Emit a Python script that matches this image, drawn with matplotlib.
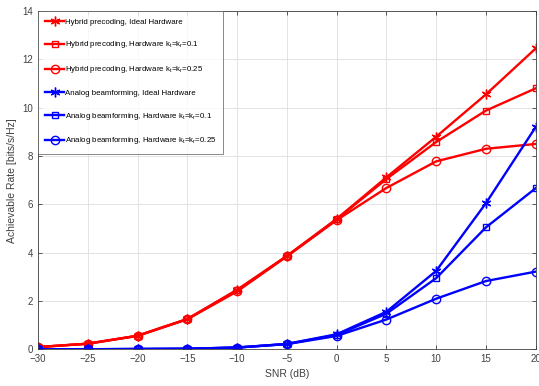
import matplotlib
matplotlib.use("Agg")
import matplotlib.pyplot as plt

snr = [-30, -25, -20, -15, -10, -5, 0, 5, 10, 15, 20]

hybrid_ideal = [0.10, 0.24, 0.57, 1.26, 2.47, 3.87, 5.40, 7.12, 8.80, 10.55, 12.45]
hybrid_k01 = [0.10, 0.24, 0.57, 1.26, 2.45, 3.86, 5.38, 7.05, 8.58, 9.88, 10.80]
hybrid_k025 = [0.10, 0.24, 0.56, 1.25, 2.40, 3.85, 5.35, 6.68, 7.78, 8.30, 8.50]

analog_ideal = [0.01, 0.01, 0.02, 0.03, 0.08, 0.23, 0.63, 1.56, 3.25, 6.05, 9.20]
analog_k01 = [0.01, 0.01, 0.02, 0.03, 0.08, 0.23, 0.60, 1.48, 2.95, 5.05, 6.67]
analog_k025 = [0.01, 0.01, 0.02, 0.03, 0.08, 0.22, 0.56, 1.24, 2.10, 2.83, 3.22]

labels = [
    "Hybrid precoding, Ideal Hardware",
    r"Hybrid precoding, Hardware k$_\mathregular{t}$=k$_\mathregular{r}$=0.1",
    r"Hybrid precoding, Hardware k$_\mathregular{t}$=k$_\mathregular{r}$=0.25",
    "Analog beamforming, Ideal Hardware",
    r"Analog beamforming, Hardware k$_\mathregular{t}$=k$_\mathregular{r}$=0.1",
    r"Analog beamforming, Hardware k$_\mathregular{t}$=k$_\mathregular{r}$=0.25",
]

plt.rcParams['font.family'] = ['Liberation Sans', 'DejaVu Sans']
plt.rcParams['mathtext.fontset'] = 'custom'
plt.rcParams['mathtext.rm'] = 'Liberation Sans'

fig = plt.figure(figsize=(5.39, 3.86), dpi=100)
ax = fig.add_axes([0.0705, 0.0946, 0.9234, 0.877])

asterisk = (6, 2, 0)
series = [
    (hybrid_ideal, 'red', asterisk, 7),
    (hybrid_k01, 'red', 's', 5),
    (hybrid_k025, 'red', 'o', 6),
    (analog_ideal, 'blue', asterisk, 7),
    (analog_k01, 'blue', 's', 5),
    (analog_k025, 'blue', 'o', 6),
]
for (vals, col, mk, ms), lab in zip(series, labels):
    ax.plot(snr, vals, color=col, marker=mk, markersize=ms, markerfacecolor='none',
            markeredgecolor=col, markeredgewidth=1.0, linewidth=1.7, label=lab)

ax.set_xlim(-30, 20)
ax.set_ylim(0, 14)
ax.set_xticks(snr)
ax.set_yticks(range(0, 15, 2))
ax.grid(True, color='#e3e3e3', linewidth=0.7)
ax.set_axisbelow(True)
ax.tick_params(direction='in', top=True, right=True, labelsize=7, colors='#404040',
               length=3, width=0.6)
for sp in ax.spines.values():
    sp.set_color('#404040')
    sp.set_linewidth(0.6)

ax.set_xlabel("SNR (dB)", fontsize=7.5, color='#404040', labelpad=3)
ax.set_ylabel("Achievable Rate [bits/s/Hz]", fontsize=7.5, color='#404040', labelpad=4)

leg = ax.legend(loc='upper left', fontsize=5.7, frameon=True, fancybox=False,
                edgecolor='#555555', borderaxespad=0, handlelength=2.4,
                handletextpad=0.1, labelspacing=1.75, borderpad=0.9)
leg.get_frame().set_linewidth(0.6)

fig.savefig("out.png", dpi=100)
